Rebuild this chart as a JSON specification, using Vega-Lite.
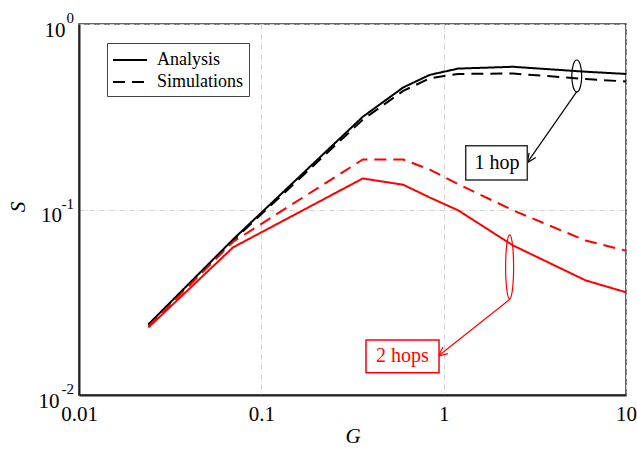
{
  "$schema": "https://vega.github.io/schema/vega-lite/v6.json",
  "width": 547,
  "height": 371,
  "autosize": {"type": "none"},
  "padding": {"left": 79, "top": 24, "right": 11, "bottom": 57},
  "background": "white",
  "config": {
    "view": {"stroke": "#333", "strokeWidth": 1.5},
    "font": "Liberation Serif",
    "axis": {
      "domainColor": "#222",
      "domainWidth": 2,
      "ticks": false,
      "tickSize": 0,
      "grid": true,
      "gridColor": "#d0d0d0",
      "gridDash": [5, 2, 1, 2],
      "gridWidth": 1,
      "labelFont": "Liberation Serif",
      "labelFontSize": 21,
      "labelColor": "black",
      "labelFlush": false,
      "labelOverlap": false,
      "labelBound": false,
      "titleFont": "Liberation Serif",
      "titleFontSize": 21,
      "titleFontStyle": "italic",
      "titleFontWeight": "normal",
      "titleColor": "black"
    }
  },
  "encoding": {
    "x": {
      "field": "G",
      "type": "quantitative",
      "scale": {"type": "log", "domain": [0.01, 10]},
      "axis": {
        "values": [0.01, 0.1, 1, 10],
        "labelExpr": "format(datum.value, '~g')",
        "labelPadding": 8,
        "title": "G",
        "titleX": 273.5,
        "titleY": 41,
        "titleAlign": "center",
        "titleBaseline": "middle",
        "titleAngle": 0
      }
    },
    "y": {
      "field": "S",
      "type": "quantitative",
      "scale": {"type": "log", "domain": [0.01, 1]},
      "axis": {
        "values": [0.01, 0.1, 1],
        "labelExpr": "'10'",
        "labelAlign": "right",
        "labelBaseline": "alphabetic",
        "labelOffset": 12,
        "labelPadding": {"condition": [{"test": "datum.value == 1", "value": 14}, {"test": "datum.value == 0.1", "value": 17.5}], "value": 20},
        "title": "S",
        "titleX": -60.5,
        "titleY": 182.5,
        "titleAngle": -90,
        "titleAlign": "center",
        "titleBaseline": "middle"
      }
    }
  },
  "layer": [
    {
      "data": {
        "values": [
          {"G": 0.024, "S": 0.024, "hops": "1 hop", "type": "Analysis"},
          {"G": 0.07, "S": 0.069, "hops": "1 hop", "type": "Analysis"},
          {"G": 0.36, "S": 0.316, "hops": "1 hop", "type": "Analysis"},
          {"G": 0.6, "S": 0.455, "hops": "1 hop", "type": "Analysis"},
          {"G": 0.84, "S": 0.532, "hops": "1 hop", "type": "Analysis"},
          {"G": 1.2, "S": 0.575, "hops": "1 hop", "type": "Analysis"},
          {"G": 2.4, "S": 0.588, "hops": "1 hop", "type": "Analysis"},
          {"G": 6, "S": 0.553, "hops": "1 hop", "type": "Analysis"},
          {"G": 10, "S": 0.538, "hops": "1 hop", "type": "Analysis"},
          {"G": 0.024, "S": 0.0238, "hops": "1 hop", "type": "Simulations"},
          {"G": 0.07, "S": 0.068, "hops": "1 hop", "type": "Simulations"},
          {"G": 0.36, "S": 0.305, "hops": "1 hop", "type": "Simulations"},
          {"G": 0.6, "S": 0.436, "hops": "1 hop", "type": "Simulations"},
          {"G": 0.84, "S": 0.51, "hops": "1 hop", "type": "Simulations"},
          {"G": 1.2, "S": 0.538, "hops": "1 hop", "type": "Simulations"},
          {"G": 2.4, "S": 0.541, "hops": "1 hop", "type": "Simulations"},
          {"G": 6, "S": 0.505, "hops": "1 hop", "type": "Simulations"},
          {"G": 10, "S": 0.49, "hops": "1 hop", "type": "Simulations"},
          {"G": 0.024, "S": 0.0231, "hops": "2 hops", "type": "Analysis"},
          {"G": 0.07, "S": 0.0625, "hops": "2 hops", "type": "Analysis"},
          {"G": 0.36, "S": 0.147, "hops": "2 hops", "type": "Analysis"},
          {"G": 0.6, "S": 0.136, "hops": "2 hops", "type": "Analysis"},
          {"G": 0.84, "S": 0.116, "hops": "2 hops", "type": "Analysis"},
          {"G": 1.2, "S": 0.099, "hops": "2 hops", "type": "Analysis"},
          {"G": 2.4, "S": 0.064, "hops": "2 hops", "type": "Analysis"},
          {"G": 6, "S": 0.0415, "hops": "2 hops", "type": "Analysis"},
          {"G": 10, "S": 0.0358, "hops": "2 hops", "type": "Analysis"},
          {"G": 0.024, "S": 0.0234, "hops": "2 hops", "type": "Simulations"},
          {"G": 0.07, "S": 0.067, "hops": "2 hops", "type": "Simulations"},
          {"G": 0.36, "S": 0.186, "hops": "2 hops", "type": "Simulations"},
          {"G": 0.6, "S": 0.186, "hops": "2 hops", "type": "Simulations"},
          {"G": 0.84, "S": 0.164, "hops": "2 hops", "type": "Simulations"},
          {"G": 1.2, "S": 0.137, "hops": "2 hops", "type": "Simulations"},
          {"G": 2.4, "S": 0.099, "hops": "2 hops", "type": "Simulations"},
          {"G": 6, "S": 0.068, "hops": "2 hops", "type": "Simulations"},
          {"G": 10, "S": 0.06, "hops": "2 hops", "type": "Simulations"}
        ]
      },
      "mark": {"type": "line", "strokeWidth": 2},
      "encoding": {
        "color": {"field": "hops", "type": "nominal", "scale": {"domain": ["1 hop", "2 hops"], "range": ["#000000", "#ff0000"]}, "legend": null},
        "strokeDash": {
          "field": "type",
          "type": "nominal",
          "scale": {"domain": ["Analysis", "Simulations"], "range": [[1, 0], [12, 7]]},
          "legend": {
            "orient": "none",
            "legendX": 28,
            "legendY": 19,
            "title": null,
            "labelFont": "Liberation Serif",
            "labelFontSize": 18,
            "labelColor": "black",
            "symbolType": "M-1,0L2.1,0",
            "symbolSize": 484,
            "symbolStrokeWidth": 2,
            "symbolStrokeColor": "black",
            "labelOffset": 21,
            "rowPadding": 1,
            "padding": 5,
            "strokeColor": "#444",
            "fillColor": "white"
          }
        }
      }
    },
    {
      "data": {"values": [{"G": 5.37, "S": 0.5245}]},
      "mark": {"type": "point", "shape": "M0,-1 A0.31,1 0 1,1 0,1 A0.31,1 0 1,1 0,-1 Z", "size": 1024, "filled": false, "stroke": "#000000", "strokeWidth": 1.2, "opacity": 1}
    },
    {
      "data": {"values": [{"G": 2.3, "S": 0.049}]},
      "mark": {"type": "point", "shape": "M0,-1 A0.125,1 0 1,1 0,1 A0.125,1 0 1,1 0,-1 Z", "size": 4096, "filled": false, "stroke": "#ff0000", "strokeWidth": 1.2, "opacity": 1}
    },
    {
      "data": {"values": [
        {"G": 5.37, "S": 0.4316, "G2": 2.875, "S2": 0.1788, "hops": "1 hop"},
        {"G": 2.311, "S": 0.0328, "G2": 0.935, "S2": 0.01622, "hops": "2 hops"}
      ]},
      "mark": {"type": "rule", "strokeWidth": 1.2},
      "encoding": {
        "x2": {"field": "G2"},
        "y2": {"field": "S2"},
        "color": {"field": "hops", "type": "nominal", "legend": null}
      }
    },
    {
      "data": {"values": [{"G": 2.875, "S": 0.1788}]},
      "mark": {"type": "point", "shape": "M-1,-0.45 L0,0 L-1,0.45", "size": 324, "angle": 124.8, "filled": false, "stroke": "#000000", "strokeWidth": 1.2, "opacity": 1}
    },
    {
      "data": {"values": [{"G": 0.935, "S": 0.01622}]},
      "mark": {"type": "point", "shape": "M-1,-0.45 L0,0 L-1,0.45", "size": 324, "angle": 141.7, "filled": false, "stroke": "#ff0000", "strokeWidth": 1.2, "opacity": 1}
    },
    {
      "data": {"values": [
        {"G": 1.321, "G2": 2.875, "S": 0.2208, "S2": 0.1442, "hops": "1 hop"},
        {"G": 0.375, "G2": 0.943, "S": 0.0198, "S2": 0.01318, "hops": "2 hops"}
      ]},
      "mark": {"type": "rect", "fill": "white", "strokeWidth": 1.5},
      "encoding": {
        "x2": {"field": "G2"},
        "y2": {"field": "S2"},
        "stroke": {"field": "hops", "type": "nominal", "scale": {"domain": ["1 hop", "2 hops"], "range": ["#333333", "#ff0000"]}, "legend": null}
      }
    },
    {
      "data": {"values": [
        {"G": 1.961, "S": 0.178, "label": "1 hop", "hops": "1 hop"},
        {"G": 0.5946, "S": 0.01617, "label": "2 hops", "hops": "2 hops"}
      ]},
      "mark": {"type": "text", "fontSize": 20, "font": "Liberation Serif", "align": "center", "baseline": "middle"},
      "encoding": {
        "text": {"field": "label"},
        "color": {"field": "hops", "type": "nominal", "legend": null}
      }
    },
    {
      "data": {"values": [{"G": 0.01, "S": 1, "e": "0"}, {"G": 0.01, "S": 0.1, "e": "-1"}, {"G": 0.01, "S": 0.01, "e": "-2"}]},
      "mark": {"type": "text", "fontSize": 15, "font": "Liberation Serif", "align": "right", "baseline": "alphabetic", "dx": -5, "dy": -1, "fill": "#000000", "clip": false},
      "encoding": {
        "text": {"field": "e", "type": "nominal"}
      }
    }
  ]
}
